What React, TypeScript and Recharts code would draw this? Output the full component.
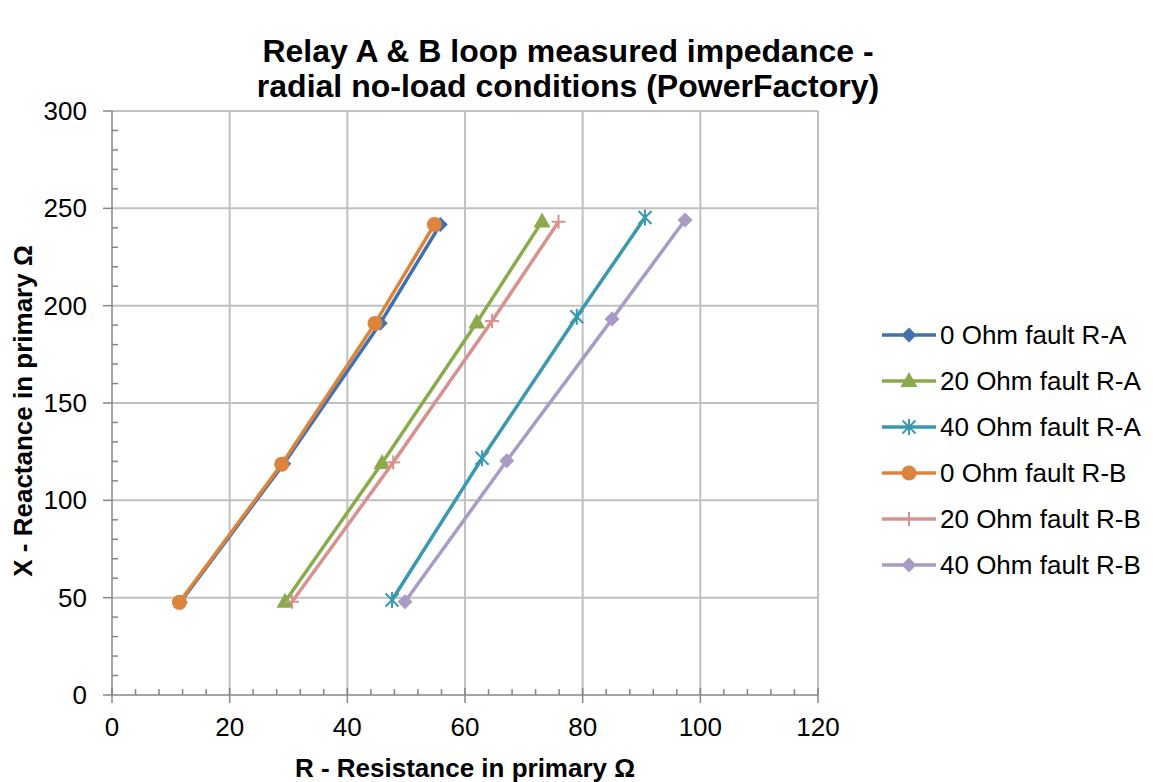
import React from 'react';
import { ScatterChart, Scatter, XAxis, YAxis, ReferenceLine, Label } from 'recharts';

// R (resistance) and X (reactance) of each fault case
const ohm0A_R = [11.6, 29.2, 45.6, 55.8];
const ohm0A_X = [47.6, 118.8, 191.0, 241.7];
const ohm20A_R = [29.4, 45.9, 62.0, 73.1];
const ohm20A_X = [47.9, 119.2, 191.4, 243.3];
const ohm40A_R = [47.6, 62.9, 79.0, 90.6];
const ohm40A_X = [48.8, 121.6, 194.3, 245.3];
const ohm0B_R = [11.45, 28.85, 44.7, 54.8];
const ohm0B_X = [47.6, 118.6, 190.9, 241.7];
const ohm20B_R = [30.6, 47.8, 64.6, 75.9];
const ohm20B_X = [47.9, 119.5, 192.1, 243.1];
const ohm40B_R = [49.8, 67.1, 85.0, 97.4];
const ohm40B_X = [47.9, 120.3, 193.1, 244.0];

const seriesNames = [
  '0 Ohm fault R-A',
  '20 Ohm fault R-A',
  '40 Ohm fault R-A',
  '0 Ohm fault R-B',
  '20 Ohm fault R-B',
  '40 Ohm fault R-B',
];

const xTicks = [0, 4, 8, 12, 16, 20, 24, 28, 32, 36, 40, 44, 48, 52, 56, 60, 64, 68, 72, 76, 80, 84, 88, 92, 96, 100, 104, 108, 112, 116, 120];
const yTicks = [0, 10, 20, 30, 40, 50, 60, 70, 80, 90, 100, 110, 120, 130, 140, 150, 160, 170, 180, 190, 200, 210, 220, 230, 240, 250, 260, 270, 280, 290, 300];
const xGrid = [20, 40, 60, 80, 100, 120];
const yGrid = [50, 100, 150, 200, 250, 300];

const FONT = '"Liberation Sans", Arial, sans-serif';
const AXIS = '#868686';
const GRID = '#c0c0c0';

const toPoints = (rs: number[], xs: number[]) => rs.map((r, i) => ({ r, x: xs[i] }));

const series = [
  { name: seriesNames[0], color: '#4271ae', kind: 'diamond', data: toPoints(ohm0A_R, ohm0A_X) },
  { name: seriesNames[1], color: '#8aab4a', kind: 'triangle', data: toPoints(ohm20A_R, ohm20A_X) },
  { name: seriesNames[2], color: '#3b98b1', kind: 'star', data: toPoints(ohm40A_R, ohm40A_X) },
  { name: seriesNames[3], color: '#dc843b', kind: 'circle', data: toPoints(ohm0B_R, ohm0B_X) },
  { name: seriesNames[4], color: '#d6928e', kind: 'plus', data: toPoints(ohm20B_R, ohm20B_X) },
  { name: seriesNames[5], color: '#a99bc4', kind: 'diamond', data: toPoints(ohm40B_R, ohm40B_X) },
];

const marker = (kind: string, color: string, cx: number, cy: number) => {
  switch (kind) {
    case 'diamond':
      return <path d={`M${cx},${cy - 7.5}L${cx + 7.5},${cy}L${cx},${cy + 7.5}L${cx - 7.5},${cy}Z`} fill={color} />;
    case 'triangle':
      return <path d={`M${cx},${cy - 9}L${cx + 8.5},${cy + 6}L${cx - 8.5},${cy + 6}Z`} fill={color} />;
    case 'circle':
      return <circle cx={cx} cy={cy} r={7.5} fill={color} />;
    case 'star':
      return (
        <g stroke={color} strokeWidth={2}>
          <line x1={cx - 6.5} y1={cy - 6.5} x2={cx + 6.5} y2={cy + 6.5} />
          <line x1={cx - 6.5} y1={cy + 6.5} x2={cx + 6.5} y2={cy - 6.5} />
          <line x1={cx} y1={cy - 8} x2={cx} y2={cy + 8} />
        </g>
      );
    default:
      return (
        <g stroke={color} strokeWidth={2}>
          <line x1={cx - 7} y1={cy} x2={cx + 7} y2={cy} />
          <line x1={cx} y1={cy - 7} x2={cx} y2={cy + 7} />
        </g>
      );
  }
};

const XTick = (props: any) => {
  const { x, y, payload } = props;
  const v = payload.value;
  if (v % 20 !== 0) return <line x1={x} x2={x} y1={y - 6} y2={y} stroke={AXIS} strokeWidth={1.5} />;
  return (
    <g>
      <line x1={x} x2={x} y1={y - 7} y2={y + 8} stroke={AXIS} strokeWidth={1.5} />
      <text x={x} y={y + 41} textAnchor="middle" fontSize={26} fontFamily={FONT} fill="#000">{v}</text>
    </g>
  );
};

const YTick = (props: any) => {
  const { x, y, payload } = props;
  const v = payload.value;
  if (v % 50 !== 0) return <line x1={x} x2={x + 6} y1={y} y2={y} stroke={AXIS} strokeWidth={1.5} />;
  return (
    <g>
      <line x1={x - 9} x2={x} y1={y} y2={y} stroke={AXIS} strokeWidth={1.5} />
      <text x={x - 25} y={y + 9} textAnchor="end" fontSize={26} fontFamily={FONT} fill="#000">{v}</text>
    </g>
  );
};

export default function App() {
  return (
    <div style={{ position: 'absolute', left: 0, top: 0, width: 1153, height: 782, background: '#fff', fontFamily: FONT }}>
      <div style={{ position: 'absolute', left: 0, top: 34, width: 1136, textAlign: 'center', fontSize: 32, lineHeight: '35px', fontWeight: 'bold', color: '#000' }}>
        Relay A &amp; B loop measured impedance -<br />radial no-load conditions (PowerFactory)
      </div>
      <ScatterChart width={1153} height={782} margin={{ top: 111, right: 335, bottom: 2, left: 12 }}>
        {xGrid.map(v => (
          <ReferenceLine key={'gx' + v} x={v} stroke={GRID} strokeWidth={2} />
        ))}
        {yGrid.map(v => (
          <ReferenceLine key={'gy' + v} y={v} stroke={GRID} strokeWidth={2} />
        ))}
        <XAxis
          type="number"
          dataKey="r"
          domain={[0, 120]}
          ticks={xTicks}
          interval={0}
          tickSize={0}
          tickMargin={0}
          tickLine={false}
          tick={<XTick />}
          height={85}
          axisLine={{ stroke: AXIS, strokeWidth: 1.5 }}
        >
          <Label
            value="R - Resistance in primary Ω"
            position="insideBottom"
            offset={3}
            style={{ fontSize: 26, fontWeight: 'bold', fontFamily: FONT, fill: '#000' }}
          />
        </XAxis>
        <YAxis
          type="number"
          dataKey="x"
          domain={[0, 300]}
          ticks={yTicks}
          interval={0}
          tickSize={0}
          tickMargin={0}
          tickLine={false}
          tick={<YTick />}
          width={100}
          axisLine={{ stroke: AXIS, strokeWidth: 1.5 }}
        >
          <Label
            content={(p: any) => {
              const vb = p.viewBox;
              const cx = vb.x + 11;
              const cy = vb.y + vb.height / 2 + 8;
              return (
                <text x={cx} y={cy} transform={`rotate(-90, ${cx}, ${cy})`} textAnchor="middle" dominantBaseline="central" fontSize={26} fontWeight="bold" fontFamily={FONT} fill="#000">
                  X - Reactance in primary Ω
                </text>
              );
            }}
          />
        </YAxis>
        {series.map(s => (
          <Scatter
            key={s.name}
            name={s.name}
            data={s.data}
            fill={s.color}
            line={{ stroke: s.color, strokeWidth: 3.5 }}
            lineType="joint"
            isAnimationActive={false}
            shape={(p: any) => marker(s.kind, s.color, p.cx, p.cy)}
          />
        ))}
      </ScatterChart>
      <div style={{ position: 'absolute', left: 881, top: 312 }}>
        {series.map(s => (
          <div key={s.name} style={{ display: 'flex', alignItems: 'center', height: 46 }}>
            <svg width={56} height={20} style={{ display: 'block' }}>
              <line x1={1} x2={55} y1={10} y2={10} stroke={s.color} strokeWidth={3.5} />
              {marker(s.kind, s.color, 28, 10)}
            </svg>
            <span style={{ fontSize: 26, color: '#000', marginLeft: 3, whiteSpace: 'nowrap' }}>{s.name}</span>
          </div>
        ))}
      </div>
    </div>
  );
}
